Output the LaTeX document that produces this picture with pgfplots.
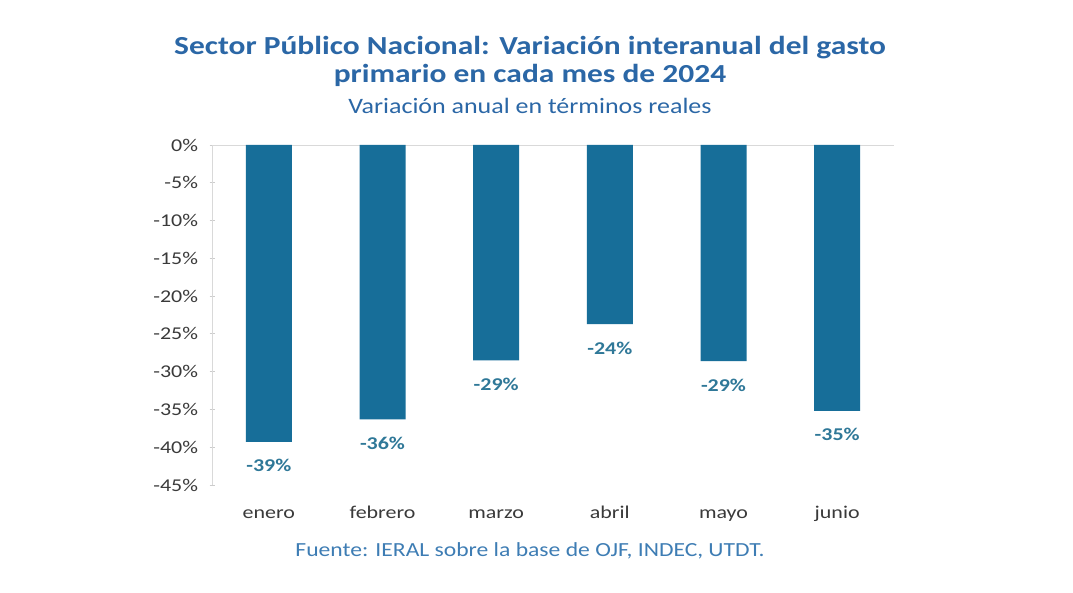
\documentclass[border=0pt]{standalone}
\usepackage{fontspec}
\usepackage{pgfplots}
\pgfplotsset{compat=1.18}
\setmainfont{Carlito}[FakeStretch=1.22]
\newfontfamily\titlefont{Carlito}[FakeStretch=1.18]
\newfontfamily\bigtitlefont{Carlito}[FakeStretch=1.21]
\definecolor{barblue}{HTML}{176E99}
\definecolor{titleblue}{HTML}{2B67A6}
\definecolor{lblblue}{HTML}{2F7898}
\definecolor{fuente}{HTML}{3E7DB4}
\definecolor{tickgray}{HTML}{3A3A3A}
\begin{document}
\begin{tikzpicture}[x=1pt,y=1pt]
\useasboundingbox (0,0) rectangle (1073,593);
\fill[white] (0,0) rectangle (1073,593);
\node[font=\bigtitlefont\fontsize{26}{28}\selectfont\bfseries, text=titleblue, align=center] at (530,532) {Sector Público Nacional: Variación interanual del gasto\\primario en cada mes de 2024};
\node[font=\titlefont\fontsize{22}{24}\selectfont, text=titleblue] at (530,487) {Variación anual en términos reales};
\node[font=\titlefont\fontsize{20}{22}\selectfont, text=fuente] at (530,42) {Fuente: IERAL sobre la base de OJF, INDEC, UTDT.};
\begin{axis}[at={(212pt,108pt)}, anchor=south west, scale only axis,
  width=682pt, height=340pt,
  xmin=-0.5, xmax=5.5, ymin=-45, ymax=0,
  xtick={0,1,2,3,4,5},
  xticklabels={enero,febrero,marzo,abril,mayo,junio},
  ytick={-45,-40,-35,-30,-25,-20,-15,-10,-5,0},
  yticklabel={\pgfmathprintnumber{\tick}\%},
  /pgf/number format/assume math mode=true,
  ticklabel style={font=\fontsize{18}{20}\selectfont, text=tickgray},
  xtick style={draw=none},
  ytick style={draw=gray!40, line width=0.8pt},
  tick align=outside,
  major tick length=5pt,
  axis lines=left,
  axis line style={-, draw=gray!30, line width=0.8pt},
  x axis line style={draw=none},
  xticklabel style={anchor=north, text height=13pt, text depth=4pt, yshift=-14pt},
  yticklabel style={xshift=-8pt},
  clip=false,
]
\draw[gray!30, line width=0.8pt] (axis cs:-0.5,0) -- (axis cs:5.5,0);
\addplot[ybar, bar width=46pt, fill=barblue, draw=none,
  nodes near coords={\pgfmathprintnumber[fixed,precision=0]{\pgfplotspointmeta}\%},
  nodes near coords style={font=\fontsize{18}{20}\selectfont\bfseries, text=lblblue, anchor=north, yshift=-14pt},
  /pgf/number format/assume math mode=true]
coordinates {(0,-39.3) (1,-36.3) (2,-28.5) (3,-23.7) (4,-28.6) (5,-35.2)};
\end{axis}
\end{tikzpicture}
\end{document}
